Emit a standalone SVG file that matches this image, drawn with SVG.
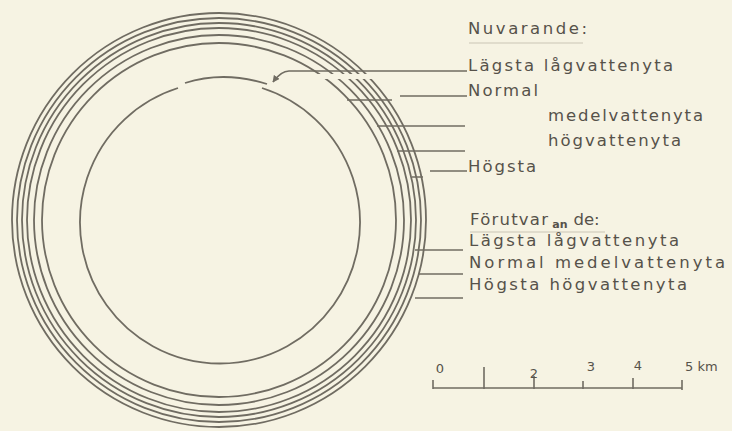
<svg xmlns="http://www.w3.org/2000/svg" width="732" height="431" viewBox="0 0 732 431">
<defs>
<style>
.ring{fill:none;stroke:#706c62;stroke-width:1.8}
.ld{fill:none;stroke:#706c62;stroke-width:1.6}
.t{font-family:"DejaVu Sans","Liberation Sans",sans-serif;font-size:16.5px;fill:#56524a}
.s{font-family:"DejaVu Sans","Liberation Sans",sans-serif;font-size:13px;fill:#56524a}
</style>
<marker id="ah" viewBox="0 0 10 10" refX="9" refY="5" markerWidth="7" markerHeight="7" orient="auto" markerUnits="userSpaceOnUse">
<path d="M0,0 L10,5 L0,10 Z" fill="#706c62"/>
</marker>
</defs>
<rect width="732" height="431" fill="#f6f3e3"/>
<g id="rings">
<ellipse class="ring" cx="219" cy="220" rx="207" ry="207"/>
<ellipse class="ring" cx="219" cy="220" rx="202" ry="202"/>
<ellipse class="ring" cx="219" cy="220" rx="197" ry="197"/>
<ellipse class="ring" cx="219" cy="220" rx="192" ry="192"/>
<ellipse class="ring" cx="219" cy="220" rx="185" ry="185"/>
<ellipse class="ring" cx="219" cy="220" rx="177" ry="177"/>
<rect x="305" y="74" width="80" height="5" fill="#f6f3e3"/>
</g>
<g id="inner">
<path class="ring" d="M262,88 A140,141 0 1 1 178,88"/>
<path class="ring" d="M185,83 Q224,70.5 267,84"/>
</g>
<g id="connectors">
<path class="ld" d="M467,71 L289,71 Q281,71 273,82" marker-end="url(#ah)"/>
<path class="ld" d="M347,100 L392,100 M400,96 L467,96"/>
<path class="ld" d="M377,126 L465,126"/>
<path class="ld" d="M397,151 L465,151"/>
<path class="ld" d="M412,177 L423,177 M430,171 L467,171"/>
<path class="ld" d="M415,250 L463,250"/>
<path class="ld" d="M418,274 L463,274"/>
<path class="ld" d="M415,298 L463,298"/>
</g>
<g id="legend-nuvarande">
<text class="t" x="468" y="34" textLength="119" lengthAdjust="spacing">Nuvarande:</text>
<line x1="469" y1="43" x2="583" y2="43" stroke="#c9c5b5" stroke-width="1.2"/>
<text class="t" x="468" y="71" textLength="205" lengthAdjust="spacing">Lägsta lågvattenyta</text>
<text class="t" x="468" y="96" textLength="70" lengthAdjust="spacing">Normal</text>
<text class="t" x="548" y="121" textLength="155" lengthAdjust="spacing">medelvattenyta</text>
<text class="t" x="548" y="146" textLength="133" lengthAdjust="spacing">högvattenyta</text>
<text class="t" x="468" y="172" textLength="68" lengthAdjust="spacing">Högsta</text>
</g>
<g id="legend-forutvarande">
<text class="t" x="470" y="225"><tspan textLength="78" lengthAdjust="spacing">Förutvar</tspan><tspan font-size="11" font-weight="bold" dy="3" dx="3">an</tspan><tspan dy="-3" dx="6">de:</tspan></text>
<line x1="470" y1="232" x2="605" y2="232" stroke="#c9c5b5" stroke-width="1.2"/>
<text class="t" x="469" y="246" textLength="210" lengthAdjust="spacing">Lägsta  lågvattenyta</text>
<text class="t" x="469" y="268" textLength="256" lengthAdjust="spacing">Normal  medelvattenyta</text>
<text class="t" x="469" y="290" textLength="218" lengthAdjust="spacing">Högsta  högvattenyta</text>
</g>
<g id="scale">
<path class="ld" stroke-width="2" d="M433,388 L682,388 M433,380 L433,389 M484,367 L484,389 M534,376 L534,389 M583,381 L583,389 M633,378 L633,389 M682,380 L682,390"/>
<text class="s" x="440" y="373" text-anchor="middle">0</text>
<text class="s" x="534" y="378" text-anchor="middle">2</text>
<text class="s" x="591" y="371" text-anchor="middle">3</text>
<text class="s" x="638" y="370" text-anchor="middle">4</text>
<text class="s" x="685" y="371">5 km</text>
</g>
</svg>
